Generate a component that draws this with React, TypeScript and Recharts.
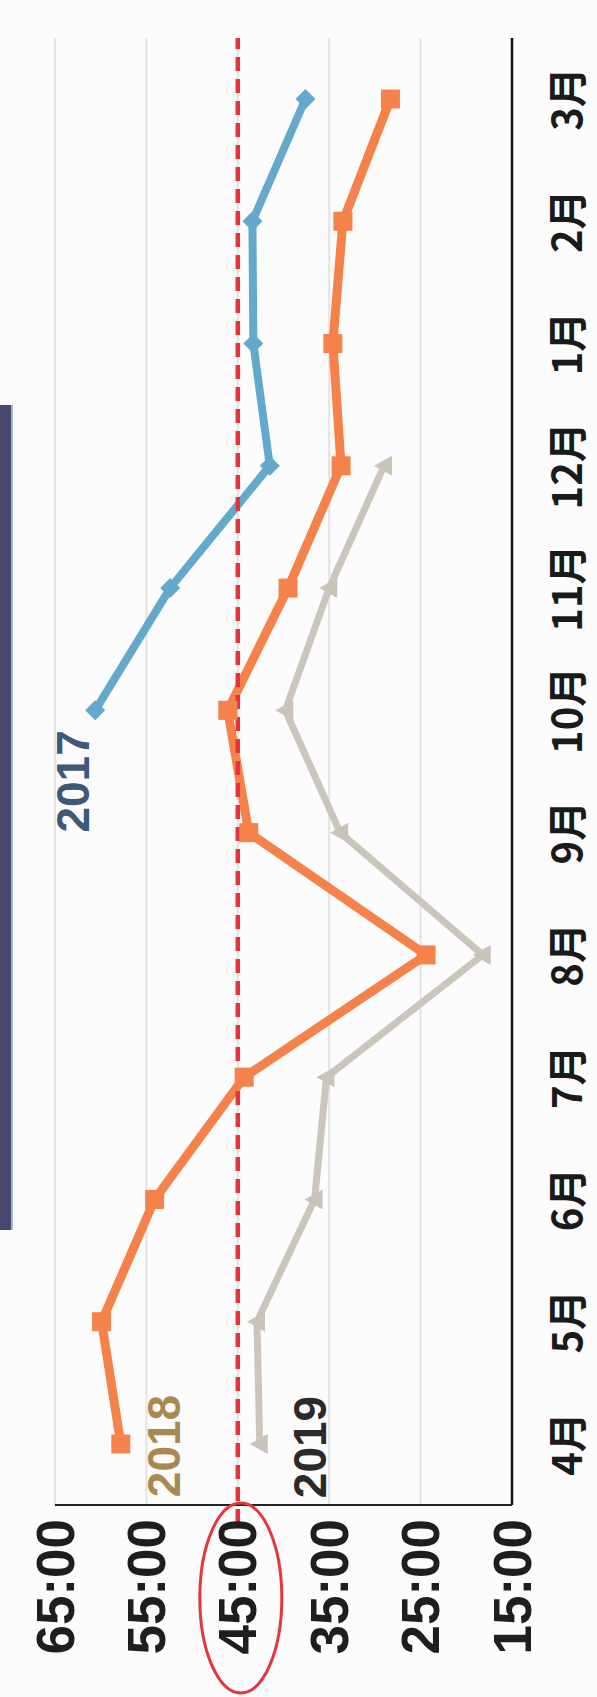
import { LineChart, Line, XAxis, YAxis, CartesianGrid, ReferenceLine, ReferenceDot } from "recharts";

const months = ["4月", "5月", "6月", "7月", "8月", "9月", "10月", "11月", "12月", "1月", "2月", "3月"];
const y2017 = [null, null, null, null, null, null, 60.6, 52.4, 41.5, 43.3, 43.4, 37.6];
const y2018 = [57.8, 59.9, 54.1, 44.3, 24.4, 43.8, 46.1, 39.5, 33.7, 34.6, 33.5, 28.3];
const y2019 = [42.6, 42.9, 36.6, 35.3, 18.2, 33.8, 39.8, 35.0, 29.0, null, null, null];
const yTicks = [15, 25, 35, 45, 55, 65];
const targetTime = 45;

// year tags placed next to the lines (month, value, pixel nudge along the month axis)
const tagNames = ["2017", "2018", "2019"];
const tagMonths = ["10月", "4月", "4月"];
const tagValues = [63, 53.1, 37.1];
const tagNudge = [-71, -2, -3];
const tagColors = ["#3d5879", "#a88a50", "#2a2a2a"];

const data = months.map((m, i) => ({ month: m, y2017: y2017[i], y2018: y2018[i], y2019: y2019[i] }));

const W = 1697;
const H = 597;

function Diamond({ cx, cy, value }: any) {
  if (cx == null || cy == null || value == null) return <g />;
  const r = 10;
  return <polygon points={`${cx},${cy - r} ${cx + r},${cy} ${cx},${cy + r} ${cx - r},${cy}`} fill="#62a9cc" />;
}

function Square({ cx, cy, value }: any) {
  if (cx == null || cy == null || value == null) return <g />;
  const r = 9.5;
  return <rect x={cx - r} y={cy - r} width={r * 2} height={r * 2} fill="#f5824a" />;
}

function Triangle({ cx, cy, value }: any) {
  if (cx == null || cy == null || value == null) return <g />;
  const r = 10;
  return <polygon points={`${cx},${cy - r} ${cx + r},${cy + r * 0.8} ${cx - r},${cy + r * 0.8}`} fill="#c9c4b9" />;
}

function MonthTick({ x, y, payload }: any) {
  return (
    <text
      x={x}
      y={y + 53}
      textAnchor="middle"
      dominantBaseline="central"
      fontFamily="'Noto Sans CJK JP', sans-serif"
      fontWeight={700}
      fontSize={40}
      fill="#1a1a1a"
    >
      {payload.value}
    </text>
  );
}

function TimeTick({ x, y, payload }: any) {
  return (
    <g>
      <text
        x={x - 14}
        y={y}
        textAnchor="end"
        dominantBaseline="central"
        fontFamily="'Liberation Sans', Arial, sans-serif"
        fontWeight={700}
        fontSize={53}
        fill="#1e1e1e"
      >
        {`${payload.value}:00`}
      </text>
      {payload.value === targetTime && (
        <ellipse cx={x - 93} cy={y + 3} rx={95} ry={41} fill="none" stroke="#e6353f" strokeWidth={3} />
      )}
    </g>
  );
}

const tagLabel = (i: number) => (props: any) => {
  const vb = props.viewBox;
  const cx = vb.x + vb.width / 2 + tagNudge[i];
  const cy = vb.y + vb.height / 2;
  return (
    <text
      x={cx}
      y={cy}
      textAnchor="middle"
      dominantBaseline="central"
      fontFamily="'Liberation Sans', Arial, sans-serif"
      fontWeight={700}
      fontSize={46}
      fill={tagColors[i]}
    >
      {tagNames[i]}
    </text>
  );
};

export default function App() {
  return (
    <div style={{ position: "absolute", left: 0, top: 0, width: 597, height: 1697, background: "#fcfcfc", overflow: "hidden" }}>
      <div style={{ position: "absolute", left: 0, top: 405, width: 11, height: 825, background: "#47486d", borderRight: "2px solid #9dbbd8" }} />
      <div
        style={{
          position: "absolute",
          left: 0,
          top: 0,
          width: W,
          height: H,
          transformOrigin: "0 0",
          transform: `translate(0px, ${W}px) rotate(-90deg)`,
        }}
      >
        <LineChart width={W} height={H} data={data} margin={{ top: 55, right: 38, bottom: 0, left: 0 }}>
          <CartesianGrid vertical={false} stroke="#e3e3e3" strokeWidth={2} />
          <XAxis
            dataKey="month"
            height={85}
            padding={{ left: 61, right: 61 }}
            axisLine={{ stroke: "#111", strokeWidth: 2.5 }}
            tickLine={false}
            tickSize={0}
            tickMargin={0}
            interval={0}
            tick={<MonthTick />}
          />
          <YAxis
            width={192}
            domain={[15, 65]}
            ticks={yTicks}
            axisLine={{ stroke: "#222", strokeWidth: 2 }}
            tickLine={false}
            tickSize={0}
            tickMargin={0}
            tick={<TimeTick />}
          />
          <Line dataKey="y2017" stroke="#62a9cc" strokeWidth={8} dot={<Diamond />} isAnimationActive={false} />
          <Line dataKey="y2018" stroke="#f5824a" strokeWidth={9} dot={<Square />} isAnimationActive={false} />
          <Line dataKey="y2019" stroke="#cbc6bb" strokeWidth={7} dot={<Triangle />} isAnimationActive={false} />
          <ReferenceLine
            y={targetTime}
            stroke="#e8333d"
            strokeWidth={4.5}
            strokeDasharray="14 8"
            shape={(p: any) => (
              <line x1={p.x1 - 18} y1={p.y1} x2={p.x2} y2={p.y2} stroke="#e8333d" strokeWidth={4.5} strokeDasharray="14 8" />
            )}
          />
          {tagNames.map((t, i) => (
            <ReferenceDot key={t} x={tagMonths[i]} y={tagValues[i]} r={1} fill="none" stroke="none" label={tagLabel(i)} />
          ))}
        </LineChart>
      </div>
    </div>
  );
}
